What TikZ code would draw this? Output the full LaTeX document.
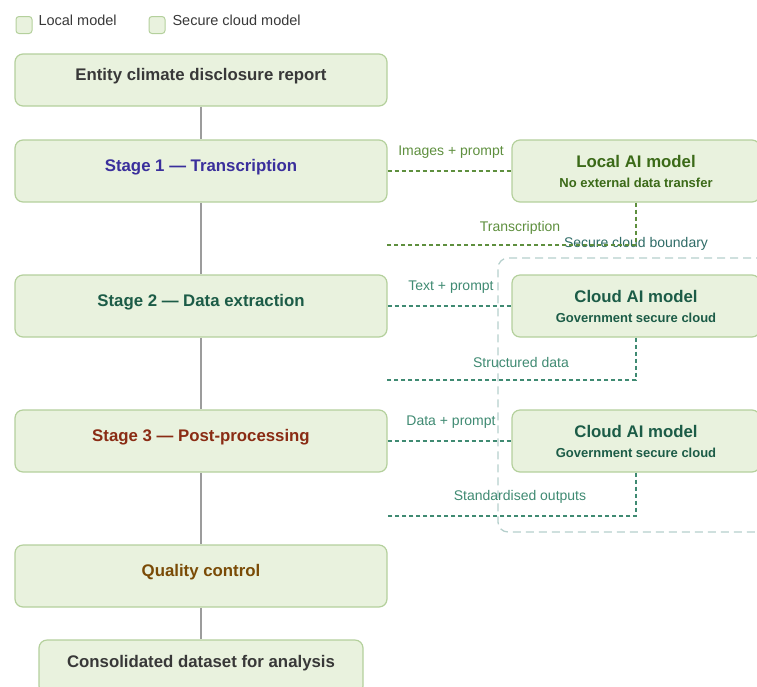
\documentclass[tikz,border=0pt]{standalone}
\usepackage{fontspec}
\setsansfont{Liberation Sans}
\usetikzlibrary{positioning}
\definecolor{cfill}{HTML}{E9F2DE}
\definecolor{cedge}{HTML}{B4D09C}
\definecolor{cspine}{HTML}{9C9C9C}
\definecolor{cgrey}{HTML}{383838}
\definecolor{cindigo}{HTML}{3A2F9C}
\definecolor{cteal}{HTML}{1C5C47}
\definecolor{crust}{HTML}{8A2C14}
\definecolor{cbrown}{HTML}{7A4B06}
\definecolor{colive}{HTML}{3B6A18}
\definecolor{clocal}{HTML}{5E8F3E}
\definecolor{ccloud}{HTML}{3F8A72}
\definecolor{cbound}{HTML}{B5CFCC}
\definecolor{czone}{HTML}{2E6B66}
\tikzset{
  every picture/.style={font=\sffamily},
  box/.style={draw=cedge, fill=cfill, rounded corners=8pt, line width=1.2pt, align=center},
  stage/.style={box, minimum width=372pt, minimum height=62pt,
    font=\sffamily\bfseries\fontsize{16.8}{19}\selectfont, text height=12.5pt, text depth=11pt},
  model/.style={box, minimum width=248pt, minimum height=62pt, text=#1},
  legbox/.style={draw=cedge, fill=cfill, rounded corners=3pt, line width=1pt, minimum width=16pt, minimum height=17pt, inner sep=0pt},
  legtext/.style={anchor=west, text=cgrey, font=\sffamily\fontsize{14.5}{17}\selectfont},
  spine/.style={draw=cspine, line width=1.6pt},
  localflow/.style={draw=clocal, line width=1.3pt, dash pattern=on 4pt off 3pt},
  cloudflow/.style={draw=ccloud, line width=1.3pt, dash pattern=on 4pt off 3pt},
  flowlbl/.style={text=#1, font=\sffamily\fontsize{14}{17}\selectfont},
  zone/.style={draw=cbound, line width=1.3pt, dash pattern=on 8pt off 5pt, rounded corners=10pt},
}
\newcommand{\bigline}[1]{{\bfseries\fontsize{16.8}{19}\selectfont #1}}
\newcommand{\smallline}[1]{{\bfseries\fontsize{13}{15}\selectfont #1}}

\begin{document}
\begin{tikzpicture}[x=1pt, y=-1pt]
  \clip (0,0) rectangle (757,686);
  % legend
  \node[legbox] (legLocal) at (24,25) {};
  \node[legtext] (legLocalTxt) at (35,20) {Local model};
  \node[legbox] (legCloud) at (157,25) {};
  \node[legtext] (legCloudTxt) at (169,20) {Secure cloud model};

  % secure cloud boundary
  \node[zone, minimum width=302pt, minimum height=274pt] (cloudzone) at (649,395) {};
  \node[flowlbl=czone] (zoneLbl) at (636,244) {Secure cloud boundary};

  % main pipeline
  \node[stage, text=cgrey, minimum height=52pt] (entity) at (201,80) {Entity climate disclosure report};
  \node[stage, text=cindigo] (stage1) at (201,171) {Stage 1 — Transcription};
  \node[stage, text=cteal] (stage2) at (201,306) {Stage 2 — Data extraction};
  \node[stage, text=crust] (stage3) at (201,441) {Stage 3 — Post-processing};
  \node[stage, text=cbrown] (qc) at (201,576) {Quality control};
  \node[stage, text=cgrey, minimum width=324pt, minimum height=54pt] (dataset) at (201,667) {Consolidated dataset for analysis};
  \draw[spine] (entity) -- (stage1);
  \draw[spine] (stage1) -- (stage2);
  \draw[spine] (stage2) -- (stage3);
  \draw[spine] (stage3) -- (qc);
  \draw[spine] (qc) -- (dataset);

  % models
  \node[model=colive] (local) at (636,171) {\bigline{Local AI model}\\[8pt]\smallline{No external data transfer}};
  \node[model=cteal] (cloudA) at (636,306) {\bigline{Cloud AI model}\\[8pt]\smallline{Government secure cloud}};
  \node[model=cteal] (cloudB) at (636,441) {\bigline{Cloud AI model}\\[8pt]\smallline{Government secure cloud}};

  % stage 1 <-> local model
  \coordinate (back1) at (387,245);
  \draw[localflow] (stage1.east) -- (local.west);
  \draw[localflow] (local.south) |- (back1);
  \node[flowlbl=clocal] (lblImg) at (451,152) {Images + prompt};
  \node[flowlbl=clocal] (lblTrans) at (520,228) {Transcription};

  % stage 2 <-> cloud model
  \coordinate (back2) at (387,380);
  \draw[cloudflow] (stage2.east) -- (cloudA.west);
  \draw[cloudflow] (cloudA.south) |- (back2);
  \node[flowlbl=ccloud] (lblText) at (451,287) {Text + prompt};
  \node[flowlbl=ccloud] (lblStruct) at (521,362) {Structured data};

  % stage 3 <-> cloud model
  \coordinate (back3) at (387,516);
  \draw[cloudflow] (stage3.east) -- (cloudB.west);
  \draw[cloudflow] (cloudB.south) |- (back3);
  \node[flowlbl=ccloud] (lblData) at (451,422) {Data + prompt};
  \node[flowlbl=ccloud] (lblStd) at (520,497) {Standardised outputs};
\end{tikzpicture}
\end{document}
